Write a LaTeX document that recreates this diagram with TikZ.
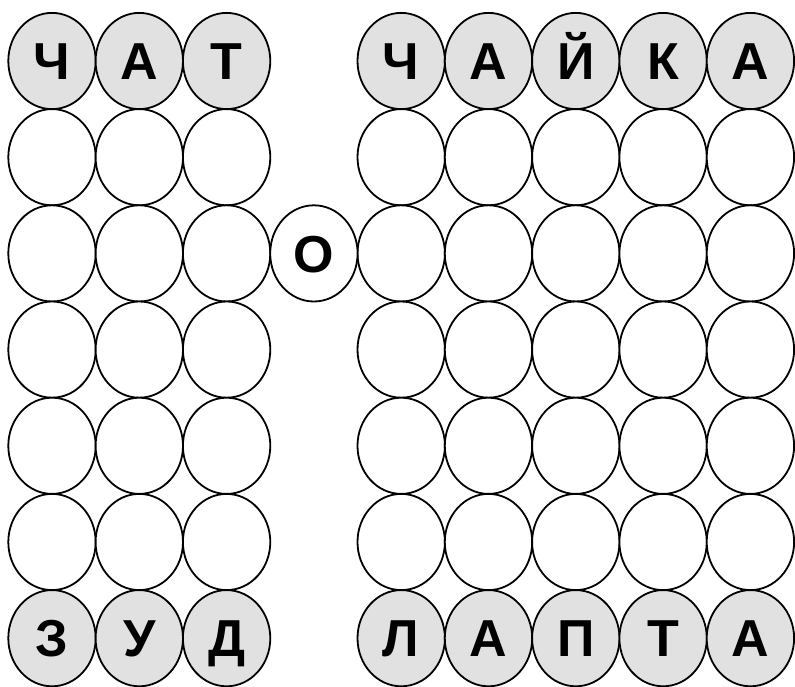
\documentclass[tikz,border=0pt]{standalone}
\usepackage{fontspec}
\setmainfont{Liberation Sans}
\usetikzlibrary{shapes.geometric}
\tikzset{
  cell/.style={ellipse, draw=black, line width=1.8pt, fill=white,
    minimum width=87.4pt, minimum height=96.2pt, inner sep=0pt,
    text height=37.3pt, text depth=0pt,
    font=\fontsize{52}{52}\selectfont\bfseries},
  given/.style={cell, fill=cellgray}
}
\definecolor{cellgray}{HTML}{E1E1E1}
\begin{document}
\begin{tikzpicture}[x=1pt,y=-1pt]
\useasboundingbox (0,0) rectangle (795,687);
% middle rows (empty)
\foreach \r in {1,...,5}{
  \foreach \c in {0,1,2,4,5,6,7,8}{
    \node[cell] (n-\r-\c) at ({52+87.3*\c},{61+96.2*\r}) {};
  }
}
% top row
\foreach \c/\t in {0/Ч,1/А,2/Т,4/Ч,5/А,6/Й,7/К,8/А}{
  \node[given] (n-0-\c) at ({52+87.3*\c},61) {\t};
}
% bottom row
\foreach \c/\t in {0/З,1/У,2/Д,4/Л,5/А,6/П,7/Т,8/А}{
  \node[given] (n-6-\c) at ({52+87.3*\c},{61+96.2*6}) {\t};
}
% middle link
\node[cell] (n-2-3) at ({52+87.3*3},{61+96.2*2}) {О};
\end{tikzpicture}
\end{document}
